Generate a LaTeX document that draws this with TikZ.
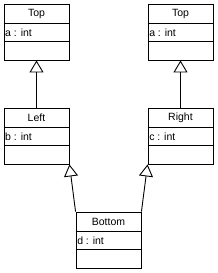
\documentclass[tikz,border=0pt]{standalone}
\usepackage{fontspec}
\setmainfont{Liberation Sans}
\usetikzlibrary{arrows.meta,calc}
\tikzset{
  cls/.style={draw, line width=0.9pt, minimum width=65pt, minimum height=56pt, inner sep=0pt},
  clsname/.style={font=\fontsize{10.5}{12}\selectfont, inner sep=0pt},
  clsattr/.style={font=\fontsize{10.5}{12}\selectfont, inner sep=0pt, anchor=west},
  divider/.style={line width=0.9pt},
  inherit/.style={line width=0.9pt, -{Triangle[open, length=12pt, width=14pt, line width=0.9pt]}}
}
\newcommand{\umlbox}[5]{%
  \node[cls] (#1) at (#2,#3) {};
  \draw[divider] ($(#1.north west)+(0,20)$) -- ($(#1.north east)+(0,20)$);
  \draw[divider] ($(#1.north west)+(0,38)$) -- ($(#1.north east)+(0,38)$);
  \node[clsname] (#1-name) at ($(#1.north)+(0,10.5)$) {#4};
  \node[clsattr] (#1-attr) at ($(#1.north west)+(1.5,29)$) {#5};
}
\begin{document}
\begin{tikzpicture}[x=1pt, y=-1pt]
\useasboundingbox (0,0) rectangle (217,273);
\umlbox{topl}{36.5}{32}{Top}{a : int}
\umlbox{topr}{180.5}{32}{Top}{a : int}
\umlbox{left}{36.5}{136}{Left}{b : int}
\umlbox{right}{180.5}{136}{Right}{c : int}
\umlbox{bottom}{108.5}{240}{Bottom}{d : int}
\draw[inherit] (left.north) -- (topl.south);
\draw[inherit] (right.north) -- (topr.south);
\draw[inherit] (bottom.north west) -- (left.south east);
\draw[inherit] (bottom.north east) -- (right.south west);
\end{tikzpicture}
\end{document}
